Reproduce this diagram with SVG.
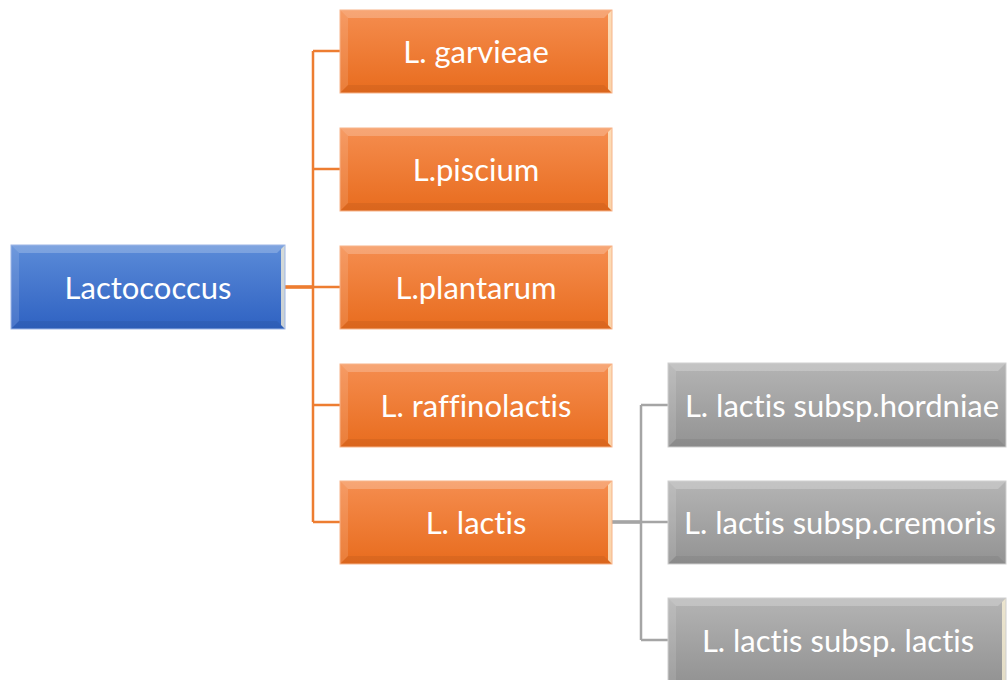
<svg xmlns="http://www.w3.org/2000/svg" width="1008" height="680" viewBox="0 0 1008 680">
<defs>
<linearGradient id="gBlue" x1="0" y1="0" x2="0" y2="1"><stop offset="0" stop-color="#5b8bd8"/><stop offset="1" stop-color="#2f62c2"/></linearGradient>
<linearGradient id="gOrange" x1="0" y1="0" x2="0" y2="1"><stop offset="0" stop-color="#f58d4f"/><stop offset="1" stop-color="#e86c1e"/></linearGradient>
<linearGradient id="gGray" x1="0" y1="0" x2="0" y2="1"><stop offset="0" stop-color="#b4b4b4"/><stop offset="1" stop-color="#939393"/></linearGradient>
<style>
.lbl{font-family:"Lato","Open Sans","Liberation Sans",sans-serif;font-size:31px;fill:#ffffff;text-anchor:middle;dominant-baseline:central;font-variant-ligatures:none;font-feature-settings:"liga" 0}
.top{fill:#ffffff;opacity:0.22}
.left{fill:#ffffff;opacity:0.12}
.bot{fill:#000000;opacity:0.06}
.right{fill:#fff6d8;opacity:0.75}
.co{stroke:#ed7d31;stroke-width:2.5;fill:none}
.cg{stroke:#a5a5a5;stroke-width:2.5;fill:none}
.edgeO{fill:none;stroke:#f7b48a;stroke-width:1}
.edgeB{fill:none;stroke:#9db6e6;stroke-width:1}
.edgeG{fill:none;stroke:#cfcfcf;stroke-width:1}
</style>
</defs>
<g id="connectors">
<path class="co" d="M285 287 H340 M313 51 V522 M313 51 H340 M313 169 H340 M313 405 H340 M313 522 H340"/>
<path class="cg" d="M612 522 H668 M641 405 V640 M641 405 H668 M641 640 H668" />
<path d="M612 522 H641" stroke="#a5a5a5" stroke-width="3.5" fill="none"/>
<path d="M285 287 H313" stroke="#ed7d31" stroke-width="3.5" fill="none"/>
</g>
<g id="n-lactococcus">
<rect x="11" y="245" width="274" height="84" fill="url(#gBlue)"/>
<polygon class="top" points="11,245 285,245 277,253 19,253"/>
<polygon class="left" points="11,245 19,253 19,321 11,329"/>
<polygon class="bot" points="11,329 19,321 277,321 285,329"/>
<polygon class="right" points="285,245 285,329 281,325 281,249"/>
<rect class="edgeB" x="11" y="245" width="274" height="84"/>
<text class="lbl" x="148" y="287">Lactococcus</text>
</g>
<g id="n-garvieae">
<rect x="340" y="10" width="272" height="83" fill="url(#gOrange)"/>
<polygon class="top" points="340,10 612,10 604,18 348,18"/>
<polygon class="left" points="340,10 348,18 348,85 340,93"/>
<polygon class="bot" points="340,93 348,85 604,85 612,93"/>
<polygon class="right" points="612,10 612,93 608,89 608,14"/>
<rect class="edgeO" x="340" y="10" width="272" height="83"/>
<text class="lbl" x="476" y="51">L. garvieae</text>
</g>
<g id="n-piscium">
<rect x="340" y="128" width="272" height="83" fill="url(#gOrange)"/>
<polygon class="top" points="340,128 612,128 604,136 348,136"/>
<polygon class="left" points="340,128 348,136 348,203 340,211"/>
<polygon class="bot" points="340,211 348,203 604,203 612,211"/>
<polygon class="right" points="612,128 612,211 608,207 608,132"/>
<rect class="edgeO" x="340" y="128" width="272" height="83"/>
<text class="lbl" x="476" y="169">L.piscium</text>
</g>
<g id="n-plantarum">
<rect x="340" y="246" width="272" height="83" fill="url(#gOrange)"/>
<polygon class="top" points="340,246 612,246 604,254 348,254"/>
<polygon class="left" points="340,246 348,254 348,321 340,329"/>
<polygon class="bot" points="340,329 348,321 604,321 612,329"/>
<polygon class="right" points="612,246 612,329 608,325 608,250"/>
<rect class="edgeO" x="340" y="246" width="272" height="83"/>
<text class="lbl" x="476" y="287">L.plantarum</text>
</g>
<g id="n-raffinolactis">
<rect x="340" y="364" width="272" height="83" fill="url(#gOrange)"/>
<polygon class="top" points="340,364 612,364 604,372 348,372"/>
<polygon class="left" points="340,364 348,372 348,439 340,447"/>
<polygon class="bot" points="340,447 348,439 604,439 612,447"/>
<polygon class="right" points="612,364 612,447 608,443 608,368"/>
<rect class="edgeO" x="340" y="364" width="272" height="83"/>
<text class="lbl" x="476" y="405">L. raffinolactis</text>
</g>
<g id="n-lactis">
<rect x="340" y="481" width="272" height="83" fill="url(#gOrange)"/>
<polygon class="top" points="340,481 612,481 604,489 348,489"/>
<polygon class="left" points="340,481 348,489 348,556 340,564"/>
<polygon class="bot" points="340,564 348,556 604,556 612,564"/>
<polygon class="right" points="612,481 612,564 608,560 608,485"/>
<rect class="edgeO" x="340" y="481" width="272" height="83"/>
<text class="lbl" x="476" y="522">L. lactis</text>
</g>
<g id="n-hordniae">
<rect x="668" y="363" width="338" height="84" fill="url(#gGray)"/>
<polygon class="top" points="668,363 1006,363 998,371 676,371"/>
<polygon class="left" points="668,363 676,371 676,439 668,447"/>
<polygon class="bot" points="668,447 676,439 998,439 1006,447"/>
<rect class="edgeG" x="668" y="363" width="338" height="84"/>
<text class="lbl" x="842" y="405">L. lactis subsp.hordniae</text>
</g>
<g id="n-cremoris">
<rect x="668" y="481" width="338" height="83" fill="url(#gGray)"/>
<polygon class="top" points="668,481 1006,481 998,489 676,489"/>
<polygon class="left" points="668,481 676,489 676,556 668,564"/>
<polygon class="bot" points="668,564 676,556 998,556 1006,564"/>
<rect class="edgeG" x="668" y="481" width="338" height="83"/>
<text class="lbl" x="840" y="522">L. lactis subsp.cremoris</text>
</g>
<g id="n-sublactis">
<rect x="668" y="598" width="338" height="84" fill="url(#gGray)"/>
<polygon class="top" points="668,598 1006,598 998,606 676,606"/>
<polygon class="left" points="668,598 676,606 676,682 668,682"/>
<polygon class="right" points="1006,598 1006,682 1002,682 1002,602"/>
<rect class="edgeG" x="668" y="598" width="338" height="84"/>
<text class="lbl" x="838" y="640">L. lactis subsp. lactis</text>
</g>
</svg>
